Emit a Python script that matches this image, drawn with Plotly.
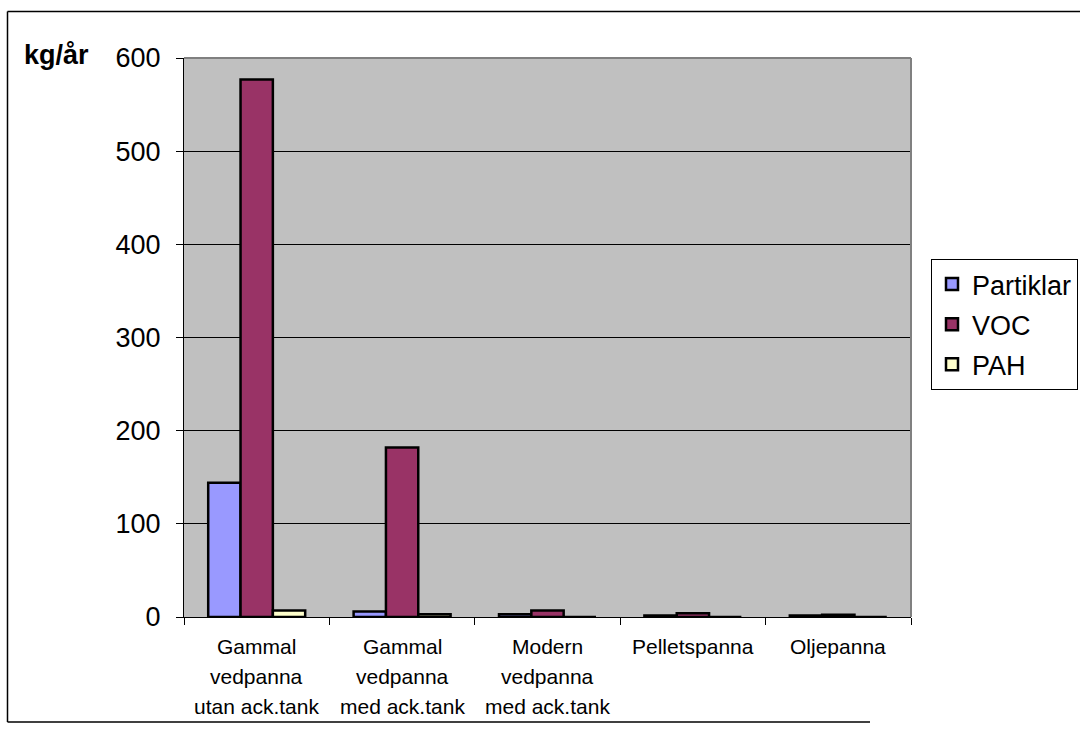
import plotly.graph_objects as go

# Annual emissions (kg/år) per boiler type
categories = [
    "Gammal<br>vedpanna<br>utan ack.tank",
    "Gammal<br>vedpanna<br>med ack.tank",
    "Modern<br>vedpanna<br>med ack.tank",
    "Pelletspanna",
    "Oljepanna",
]
partiklar = [144, 6, 3, 1.5, 1.5]
voc = [577, 182, 7, 4, 2.5]
pah = [7, 3, 0, 0, 0]
y_ticks = [0, 100, 200, 300, 400, 500, 600]

W, H = 1080, 733
L, R, T, B = 184, 911, 58, 617  # plot area in pixels


def px(x):
    return (x - L) / (R - L)


def py(y):
    return (B - y) / (B - T)


FONT = "Liberation Sans, Arial, sans-serif"
fig = go.Figure()
for name, vals, col in [
    ("Partiklar", partiklar, "#9999FF"),
    ("VOC", voc, "#993366"),
    ("PAH", pah, "#FFFFCC"),
]:
    fig.add_trace(go.Bar(
        x=list(range(len(categories))), y=vals, name=name, legendgroup=name,
        marker=dict(color=col, line=dict(color="black", width=2.5)),
    ))

fig.update_layout(
    width=W, height=H, autosize=False,
    margin=dict(l=L, r=W - R, t=T, b=H - B, pad=0, autoexpand=False),
    paper_bgcolor="white", plot_bgcolor="#C0C0C0",
    barmode="group", bargap=0.333, bargroupgap=0,
    font=dict(family=FONT, color="black"),
    showlegend=True,
    legend=dict(
        xref="container", yref="container",
        x=931 / W, y=1 - 259 / H, xanchor="left", yanchor="top",
        bgcolor="white", bordercolor="#000000", borderwidth=1,
        font=dict(size=27, family=FONT),
        tracegroupgap=2, itemwidth=30,
    ),
    xaxis=dict(
        showline=True, linecolor="black", linewidth=1,
        ticks="outside", ticklen=7, tickcolor="black",
        tickmode="array", tickvals=[-0.5, 0.5, 1.5, 2.5, 3.5, 4.5], ticktext=[""] * 6,
        range=[-0.5, 4.5], showgrid=False, zeroline=False,
    ),
    yaxis=dict(
        range=[0, 600], tickvals=y_ticks,
        showline=True, linecolor="black", linewidth=1,
        ticks="outside", ticklen=7, tickcolor="black",
        showgrid=True, gridcolor="#000000", gridwidth=1,
        zeroline=False, tickfont=dict(size=27, family=FONT),
        ticklabelstandoff=10,
    ),
)

# category labels, one annotation per text line for Excel-like line spacing
LINE_Y0, LINE_STEP = 646, 30
for i, label in enumerate(categories):
    for j, line in enumerate(label.split("<br>")):
        fig.add_annotation(
            text=line, x=i, xref="x", yref="paper",
            y=py(LINE_Y0 + j * LINE_STEP), xanchor="center", yanchor="middle",
            showarrow=False, font=dict(size=21, family=FONT, color="black"),
        )

shapes = [
    # top and right border of the plot area
    dict(type="line", xref="paper", yref="paper", x0=0, x1=1, y0=1, y1=1,
         line=dict(color="#808080", width=2)),
    dict(type="line", xref="paper", yref="paper", x0=1, x1=1, y0=0, y1=1,
         line=dict(color="#808080", width=2)),
    # outer chart frame
    dict(type="line", xref="paper", yref="paper", x0=px(7.5), x1=px(1085), y0=py(11.5), y1=py(11.5),
         line=dict(color="black", width=1.5)),
    dict(type="line", xref="paper", yref="paper", x0=px(7.5), x1=px(7.5), y0=py(11.5), y1=py(722),
         line=dict(color="black", width=1.5)),
    dict(type="line", xref="paper", yref="paper", x0=px(7.5), x1=px(870), y0=py(722), y1=py(722),
         line=dict(color="black", width=1.5)),
]
fig.update_layout(shapes=shapes)

fig.add_annotation(
    text="<b>kg/år</b>", xref="paper", yref="paper",
    x=px(56), y=py(55), xanchor="center", yanchor="middle",
    showarrow=False, font=dict(size=27, family=FONT, color="black"),
)

fig.write_html("out.html")
